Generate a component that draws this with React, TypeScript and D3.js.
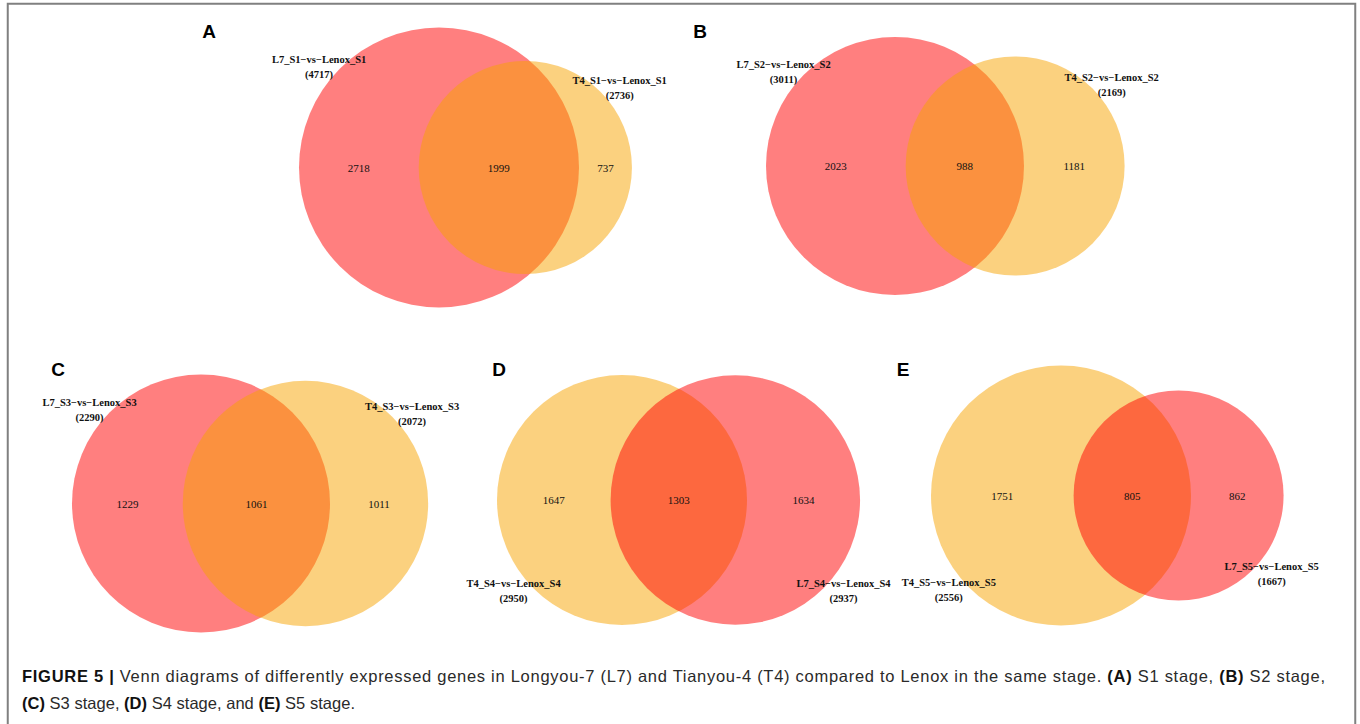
import React from "react";
import * as d3 from "d3";

// ---------- data ----------
const panelLetters = ["A", "B", "C", "D", "E"];
const leftNames = [
  "L7_S1\u2212vs\u2212Lenox_S1",
  "L7_S2\u2212vs\u2212Lenox_S2",
  "L7_S3\u2212vs\u2212Lenox_S3",
  "T4_S4\u2212vs\u2212Lenox_S4",
  "T4_S5\u2212vs\u2212Lenox_S5",
];
const rightNames = [
  "T4_S1\u2212vs\u2212Lenox_S1",
  "T4_S2\u2212vs\u2212Lenox_S2",
  "T4_S3\u2212vs\u2212Lenox_S3",
  "L7_S4\u2212vs\u2212Lenox_S4",
  "L7_S5\u2212vs\u2212Lenox_S5",
];
const leftTotals = [4717, 3011, 2290, 2950, 2556];
const rightTotals = [2736, 2169, 2072, 2937, 1667];
const overlaps = [1999, 988, 1061, 1303, 805];
// which line (L7 or T4) each circle belongs to -> colour
const leftGroups = ["L7", "L7", "L7", "T4", "T4"];
const rightGroups = ["T4", "T4", "T4", "L7", "L7"];

// ---------- layout (positions / sizes / styles) ----------
const layout = [
  { cx: 439, cy: 167.5, r: 140, lx: 209, ly: 38, labelsBelow: false },
  { cx: 895, cy: 166, r: 129, lx: 700, ly: 38, labelsBelow: false },
  { cx: 201, cy: 503.5, r: 129, lx: 58, ly: 376, labelsBelow: false },
  { cx: 622, cy: 500, r: 125, lx: 499, ly: 376, labelsBelow: true },
  { cx: 1061, cy: 495.5, r: 130, lx: 903, ly: 376, labelsBelow: true },
];
const colors: Record<string, string> = { L7: "#FF0000", T4: "#F7A300" };
const serif = "'Liberation Serif', 'Times New Roman', serif";
const sans = "'Liberation Sans', Arial, Helvetica, sans-serif";

function lensArea(r1: number, r2: number, d: number) {
  if (d >= r1 + r2) return 0;
  if (d <= Math.abs(r1 - r2)) return Math.PI * Math.min(r1, r2) ** 2;
  const a = r1 * r1 * Math.acos((d * d + r1 * r1 - r2 * r2) / (2 * d * r1));
  const b = r2 * r2 * Math.acos((d * d + r2 * r2 - r1 * r1) / (2 * d * r2));
  const c = 0.5 * Math.sqrt((-d + r1 + r2) * (d + r1 - r2) * (d - r1 + r2) * (d + r1 + r2));
  return a + b - c;
}

function solveDistance(r1: number, r2: number, target: number) {
  let lo = Math.abs(r1 - r2);
  let hi = r1 + r2;
  for (let i = 0; i < 80; i++) {
    const mid = (lo + hi) / 2;
    if (lensArea(r1, r2, mid) > target) lo = mid;
    else hi = mid;
  }
  return (lo + hi) / 2;
}

function Panel({ i }: { i: number }) {
  const L = layout[i];
  const rScale = d3.scaleSqrt().domain([0, leftTotals[i]]).range([0, L.r]);
  const r1 = rScale(leftTotals[i]);
  const r2 = rScale(rightTotals[i]);
  const target = Math.PI * r1 * r1 * (overlaps[i] / leftTotals[i]);
  const d = solveDistance(r1, r2, target);
  const x1 = L.cx;
  const x2 = L.cx + d;
  const cy = L.cy;

  const leftOnly = leftTotals[i] - overlaps[i];
  const rightOnly = rightTotals[i] - overlaps[i];
  const nLeftX = ((x1 - r1) + (x2 - r2)) / 2;
  const nMidX = ((x2 - r2) + (x1 + r1)) / 2;
  const nRightX = ((x1 + r1) + (x2 + r2)) / 2;

  const ang = (50 * Math.PI) / 180;
  const off = 16.5;
  const sgn = L.labelsBelow ? 1 : -1;
  const la = { x: x1 - (r1 + off) * Math.sin(ang), y: cy + sgn * (r1 + off) * Math.cos(ang) };
  const ra = { x: x2 + (r2 + off) * Math.sin(ang), y: cy + sgn * (r2 + off) * Math.cos(ang) };

  const label = (p: { x: number; y: number }, name: string, total: number) => (
    <g fontFamily={serif} fontWeight="bold" fontSize={10.5} fill="#111" textAnchor="middle">
      <text x={p.x} y={p.y - 7.5} dominantBaseline="central">{name}</text>
      <text x={p.x} y={p.y + 7.5} dominantBaseline="central">({total})</text>
    </g>
  );

  return (
    <g>
      <circle cx={x1} cy={cy} r={r1} fill={colors[leftGroups[i]]} fillOpacity={0.5} />
      <circle cx={x2} cy={cy} r={r2} fill={colors[rightGroups[i]]} fillOpacity={0.5} />
      <g fontFamily={serif} fontSize={11} fill="#111" textAnchor="middle">
        <text x={nLeftX} y={cy} dominantBaseline="central">{leftOnly}</text>
        <text x={nMidX} y={cy} dominantBaseline="central">{overlaps[i]}</text>
        <text x={nRightX} y={cy} dominantBaseline="central">{rightOnly}</text>
      </g>
      {label(la, leftNames[i], leftTotals[i])}
      {label(ra, rightNames[i], rightTotals[i])}
      <text x={L.lx} y={L.ly} fontFamily={sans} fontWeight="bold" fontSize={19} textAnchor="middle" fill="#000">
        {panelLetters[i]}
      </text>
    </g>
  );
}

export default function App() {
  return (
    <div style={{ position: "absolute", left: 0, top: 0, width: 1360, height: 724, background: "#fff" }}>
      <svg width={1360} height={724} style={{ display: "block" }}>
        <rect x={0} y={0} width={1360} height={724} fill="#fff" />
        <rect x={7.75} y={3.75} width={1347.5} height={740} fill="none" stroke="#808080" strokeWidth={2} />
        {panelLetters.map((_, i) => (
          <Panel key={i} i={i} />
        ))}
        <g fontFamily={sans} fontSize={16.5} fill="#2a2a2a">
          <text x={22} y={682} textLength={1303} lengthAdjust="spacing">
            <tspan fontWeight="bold" fill="#111">FIGURE 5 |</tspan>
            <tspan> Venn diagrams of differently expressed genes in Longyou-7 (L7) and Tianyou-4 (T4) compared to Lenox in the same stage. </tspan>
            <tspan fontWeight="bold" fill="#111">(A)</tspan>
            <tspan> S1 stage, </tspan>
            <tspan fontWeight="bold" fill="#111">(B)</tspan>
            <tspan> S2 stage,</tspan>
          </text>
          <text x={22} y={709} textLength={333} lengthAdjust="spacing">
            <tspan fontWeight="bold" fill="#111">(C)</tspan>
            <tspan> S3 stage, </tspan>
            <tspan fontWeight="bold" fill="#111">(D)</tspan>
            <tspan> S4 stage, and </tspan>
            <tspan fontWeight="bold" fill="#111">(E)</tspan>
            <tspan> S5 stage.</tspan>
          </text>
        </g>
      </svg>
    </div>
  );
}
